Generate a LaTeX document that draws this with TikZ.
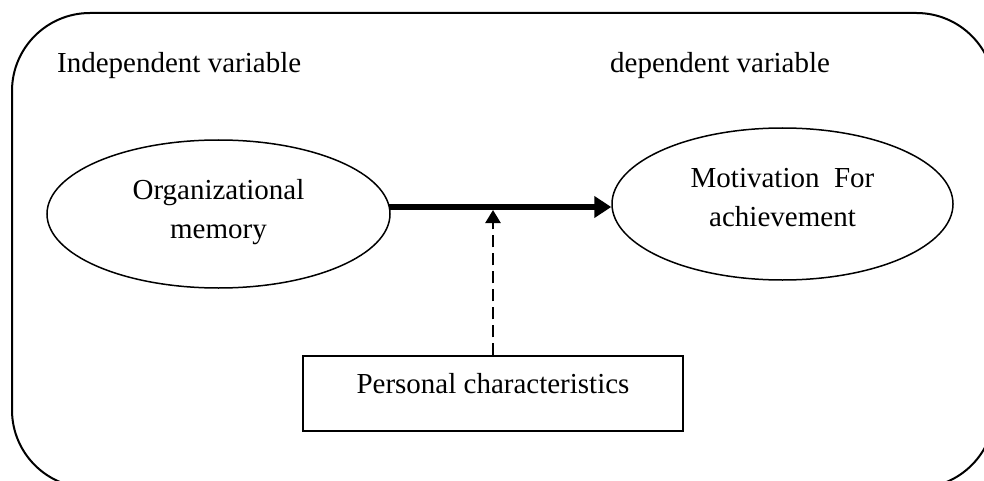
\documentclass[tikz,border=0pt]{standalone}
\usepackage{fontspec}
\setmainfont{Liberation Serif}
\usetikzlibrary{shapes.geometric,arrows.meta}
\begin{document}
\begin{tikzpicture}[x=1pt,y=-1pt,
  bigfont/.style={font=\fontsize{29}{38.5}\selectfont},
  lbl/.style={bigfont, inner sep=0pt},
  oval/.style={ellipse, draw, line width=1.5pt, inner sep=0pt, align=center, bigfont},
  charbox/.style={rectangle, draw, line width=1.5pt, inner sep=0pt, bigfont,
    minimum width=380pt, minimum height=75pt, text height=20pt, text depth=21pt},
  mainarrow/.style={line width=6pt, -{Triangle[length=17pt,width=21pt]}},
  modarrow/.style={line width=2.5pt, dash pattern=on 12pt off 6pt, -{Triangle[length=13pt,width=15pt]}},
  frame/.style={draw, line width=2pt, rounded corners=78pt}]
\clip (0,0) rectangle (984,481);
\draw[frame] (12,13) rectangle (994.5,488);
\node[lbl, anchor=base west] (iv) at (57,73) {Independent variable};
\node[lbl, anchor=base west] (dv) at (610,73) {dependent variable};
\node[oval, minimum width=343pt, minimum height=148pt] (om) at (218.5,214)
  {Organizational\\memory\rule[-10pt]{0pt}{10pt}};
\node[oval, minimum width=341pt, minimum height=152pt] (mf) at (782.5,204)
  {Motivation\ \ For\\achievement\rule[-13pt]{0pt}{13pt}};
\node[charbox] (pc) at (493,393.5) {Personal characteristics};
\coordinate (ay) at (0,207);
\coordinate (by) at (0,210);
\draw[mainarrow] ([xshift=-2pt]om.east |- ay) -- (mf.west |- ay);
\draw[modarrow] (pc.north) -- (pc.north |- by);
\end{tikzpicture}
\end{document}
